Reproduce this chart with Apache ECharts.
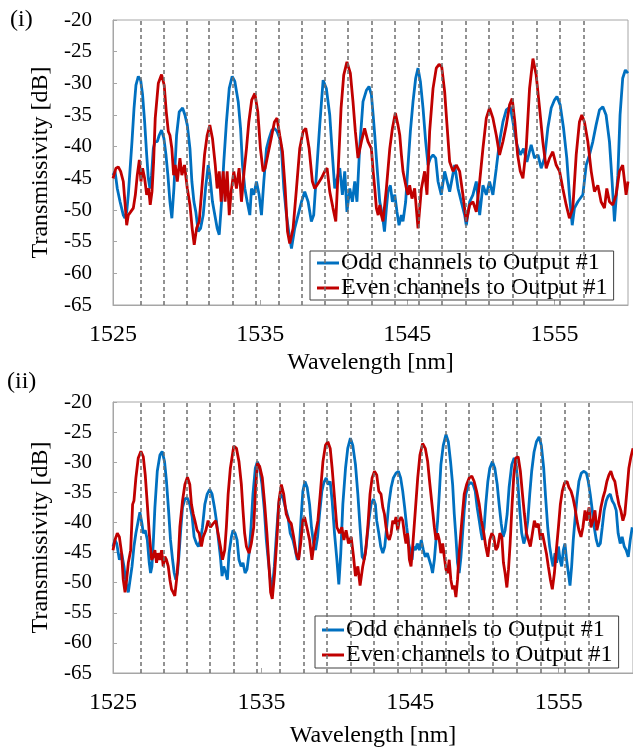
<!DOCTYPE html>
<html>
<head>
<meta charset="utf-8">
<script src="https://cdn.jsdelivr.net/npm/echarts@6/dist/echarts.min.js"></script>
<style>
  html, body { margin: 0; padding: 0; background: #fff; }
  #chart { width: 633px; height: 749px; }
</style>
</head>
<body>
<div id="chart"></div>
<script>
// channel grid (dashed lines), nm
const channelNm = [1526.87, 1528.42, 1529.99, 1531.54, 1533.11, 1534.69, 1536.25, 1537.83, 1539.42, 1540.98,
  1542.58, 1544.17, 1545.76, 1547.37, 1548.96, 1550.57, 1552.17, 1553.77, 1555.38, 1556.99];

const xLabels = [1525, 1535, 1545, 1555];

// (i) odd channels (blue)
const p1OddNm = [1525.00,1525.14,1525.29,1525.48,1525.70,1525.81,1525.93,1526.04,1526.15,1526.29,1526.43,1526.56,1526.72,1526.88,1527.01,1527.15,1527.29,1527.40,1527.51,1527.62,1527.74,1527.85,1528.01,1528.14,1528.30,1528.46,1528.60,1528.73,1528.87,1529.00,1529.14,1529.32,1529.50,1529.73,1529.89,1530.05,1530.23,1530.36,1530.50,1530.63,1530.79,1530.95,1531.13,1531.29,1531.47,1531.58,1531.76,1531.92,1532.08,1532.22,1532.38,1532.53,1532.71,1532.90,1533.10,1533.28,1533.51,1533.67,1533.80,1533.96,1534.12,1534.30,1534.41,1534.57,1534.75,1534.93,1535.09,1535.25,1535.43,1535.61,1535.79,1535.97,1536.15,1536.33,1536.45,1536.61,1536.79,1536.97,1537.13,1537.35,1537.58,1537.81,1538.03,1538.26,1538.48,1538.64,1538.82,1539.05,1539.28,1539.50,1539.73,1539.91,1540.07,1540.29,1540.41,1540.59,1540.75,1540.90,1541.09,1541.27,1541.43,1541.58,1541.76,1541.99,1542.22,1542.40,1542.56,1542.68,1542.79,1542.90,1543.02,1543.13,1543.31,1543.45,1543.58,1543.69,1543.85,1543.99,1544.15,1544.30,1544.44,1544.60,1544.71,1544.89,1545.05,1545.21,1545.39,1545.57,1545.73,1545.89,1546.07,1546.25,1546.41,1546.57,1546.75,1546.93,1547.09,1547.31,1547.54,1547.88,1548.22,1548.45,1548.67,1548.90,1549.01,1549.24,1549.46,1549.69,1549.92,1550.14,1550.37,1550.59,1550.82,1551.05,1551.27,1551.50,1551.73,1552.00,1552.22,1552.45,1552.68,1552.90,1553.13,1553.42,1553.65,1553.88,1554.10,1554.33,1554.55,1554.78,1555.01,1555.17,1555.39,1555.62,1555.84,1556.02,1556.21,1556.36,1556.59,1556.93,1557.16,1557.38,1557.61,1557.83,1558.06,1558.29,1558.51,1558.74,1558.92,1559.08,1559.31,1559.46,1559.64,1559.82,1560.00];
const p1OddDb = [-44.5,-43.9,-46.6,-48.7,-50.8,-51.3,-50.3,-47.6,-43.9,-39.2,-33.9,-30.3,-28.9,-29.5,-31.8,-36.1,-41.3,-45.0,-46.6,-44.5,-40.3,-39.2,-39.2,-38.2,-37.4,-38.7,-41.3,-44.5,-48.7,-51.3,-46.6,-38.2,-34.5,-33.9,-35.0,-36.6,-40.3,-45.5,-48.7,-50.3,-53.4,-52.9,-50.8,-46.6,-42.9,-44.5,-48.7,-50.8,-52.9,-53.9,-48.7,-42.4,-36.1,-30.8,-28.9,-29.7,-32.9,-37.1,-42.9,-46.6,-48.7,-50.8,-46.6,-47.6,-45.5,-47.6,-50.8,-45.5,-40.3,-38.7,-37.4,-37.1,-37.6,-38.7,-40.3,-46.6,-50.8,-53.9,-56.1,-52.9,-50.8,-48.7,-47.1,-48.7,-51.8,-50.8,-44.5,-36.6,-29.5,-30.8,-35.0,-41.3,-46.6,-44.5,-43.4,-47.6,-43.9,-50.3,-46.6,-48.7,-45.5,-48.7,-40.3,-32.9,-31.1,-30.5,-31.8,-35.0,-38.2,-41.8,-45.5,-48.7,-50.8,-53.4,-49.7,-47.1,-46.1,-48.7,-47.6,-50.3,-52.4,-50.8,-51.8,-48.7,-42.9,-37.6,-32.9,-29.2,-27.6,-29.7,-33.9,-39.2,-42.9,-41.8,-41.3,-41.8,-45.5,-47.6,-43.9,-47.1,-42.9,-46.6,-48.7,-50.8,-52.4,-48.7,-47.6,-45.5,-50.8,-46.1,-47.6,-45.5,-47.6,-43.4,-39.2,-36.1,-34.2,-33.7,-36.6,-39.7,-41.3,-40.3,-42.4,-39.7,-41.8,-41.3,-43.4,-41.8,-37.1,-33.9,-32.6,-32.1,-33.4,-37.1,-41.8,-47.6,-52.4,-49.7,-48.7,-47.6,-42.9,-41.3,-39.2,-36.6,-34.2,-33.7,-35.0,-39.2,-45.5,-51.8,-44.5,-35.0,-29.2,-27.9,-28.4];

// (i) even channels (red)
const p1EvenNm = [1525.00,1525.20,1525.36,1525.52,1525.70,1525.81,1525.93,1526.04,1526.20,1526.38,1526.52,1526.65,1526.79,1526.90,1527.01,1527.15,1527.29,1527.42,1527.53,1527.65,1527.76,1527.87,1528.08,1528.30,1528.48,1528.62,1528.76,1528.87,1529.00,1529.12,1529.23,1529.37,1529.55,1529.68,1529.86,1530.05,1530.23,1530.38,1530.52,1530.68,1530.86,1531.04,1531.22,1531.40,1531.58,1531.76,1531.95,1532.08,1532.22,1532.35,1532.49,1532.62,1532.76,1532.90,1533.03,1533.21,1533.39,1533.57,1533.73,1533.91,1534.07,1534.23,1534.43,1534.64,1534.84,1535.02,1535.20,1535.34,1535.52,1535.75,1535.97,1536.15,1536.33,1536.52,1536.70,1536.86,1537.01,1537.24,1537.47,1537.69,1537.92,1538.10,1538.33,1538.55,1538.71,1538.94,1539.16,1539.39,1539.55,1539.73,1539.95,1540.14,1540.32,1540.50,1540.68,1540.90,1541.13,1541.31,1541.47,1541.65,1541.88,1542.10,1542.33,1542.56,1542.68,1542.79,1542.90,1543.02,1543.13,1543.24,1543.35,1543.58,1543.81,1543.99,1544.19,1544.37,1544.49,1544.60,1544.71,1544.94,1545.05,1545.16,1545.32,1545.50,1545.73,1545.96,1546.18,1546.34,1546.52,1546.75,1546.97,1547.16,1547.34,1547.54,1547.70,1547.88,1548.11,1548.33,1548.56,1548.78,1549.01,1549.24,1549.46,1549.69,1549.92,1550.14,1550.37,1550.59,1550.82,1551.05,1551.27,1551.50,1551.73,1551.95,1552.13,1552.31,1552.50,1552.68,1552.86,1553.08,1553.31,1553.54,1553.76,1553.99,1554.21,1554.44,1554.67,1554.89,1555.12,1555.35,1555.57,1555.80,1556.02,1556.25,1556.48,1556.70,1556.86,1557.04,1557.27,1557.50,1557.72,1557.95,1558.17,1558.40,1558.56,1558.74,1558.97,1559.19,1559.42,1559.64,1559.87,1560.00];
const p1EvenDb = [-45.0,-43.4,-43.2,-43.9,-45.5,-48.7,-52.4,-50.8,-50.3,-49.7,-47.6,-44.5,-42.1,-45.5,-43.4,-45.0,-47.6,-46.6,-49.2,-47.1,-42.4,-35.5,-30.0,-28.6,-30.3,-34.5,-37.6,-38.2,-40.3,-44.5,-42.9,-45.5,-41.8,-44.5,-42.9,-46.6,-49.2,-52.9,-55.5,-52.9,-51.8,-46.6,-41.3,-38.2,-36.6,-38.7,-42.9,-46.6,-43.9,-48.7,-43.9,-48.7,-43.9,-50.8,-47.1,-43.9,-46.6,-43.4,-48.7,-43.9,-40.3,-36.1,-32.6,-31.6,-34.5,-40.3,-43.9,-43.4,-41.3,-38.7,-36.1,-35.5,-38.2,-40.8,-46.6,-53.4,-55.3,-52.9,-46.6,-40.3,-37.6,-37.1,-40.3,-45.5,-46.6,-45.8,-45.0,-43.9,-43.4,-47.1,-49.7,-51.8,-42.9,-33.9,-28.7,-26.6,-28.4,-32.9,-37.6,-41.8,-39.2,-37.1,-39.2,-40.3,-43.9,-46.6,-49.7,-50.8,-49.2,-50.8,-51.8,-46.6,-40.3,-37.1,-34.7,-36.6,-38.2,-41.3,-43.9,-46.6,-47.6,-46.1,-48.2,-46.6,-52.9,-46.6,-43.9,-47.6,-37.6,-30.8,-27.6,-27.0,-27.4,-31.3,-36.6,-42.4,-43.9,-42.9,-43.9,-47.6,-51.8,-49.2,-48.7,-50.3,-45.5,-40.3,-35.5,-33.9,-35.5,-38.2,-41.3,-39.2,-36.6,-33.4,-32.4,-36.1,-41.3,-43.9,-45.0,-40.3,-30.8,-26.1,-28.7,-33.9,-39.2,-43.4,-41.8,-40.8,-42.9,-43.9,-46.6,-49.2,-51.3,-49.7,-41.3,-36.1,-35.0,-36.1,-39.2,-43.9,-47.1,-46.1,-48.7,-49.7,-46.6,-48.7,-49.2,-47.6,-43.9,-42.9,-47.6,-45.5];

// (ii) odd channels (blue)
const p2OddNm = [1525.00,1525.13,1525.25,1525.43,1525.58,1525.74,1525.87,1526.03,1526.14,1526.28,1526.41,1526.54,1526.70,1526.81,1526.95,1527.04,1527.17,1527.31,1527.44,1527.53,1527.62,1527.71,1527.82,1527.98,1528.16,1528.31,1528.47,1528.60,1528.74,1528.87,1529.01,1529.12,1529.23,1529.34,1529.45,1529.57,1529.68,1529.84,1529.99,1530.17,1530.33,1530.46,1530.62,1530.75,1530.89,1531.02,1531.18,1531.34,1531.51,1531.67,1531.83,1531.96,1532.10,1532.23,1532.34,1532.45,1532.59,1532.70,1532.81,1532.97,1533.08,1533.22,1533.35,1533.48,1533.62,1533.75,1533.89,1534.02,1534.16,1534.29,1534.42,1534.58,1534.72,1534.87,1535.03,1535.19,1535.32,1535.45,1535.59,1535.70,1535.86,1535.99,1536.15,1536.28,1536.44,1536.60,1536.78,1536.93,1537.11,1537.27,1537.40,1537.51,1537.65,1537.78,1537.92,1538.07,1538.23,1538.36,1538.50,1538.63,1538.77,1538.90,1539.06,1539.19,1539.35,1539.48,1539.62,1539.75,1539.91,1540.07,1540.20,1540.33,1540.47,1540.65,1540.80,1540.98,1541.14,1541.32,1541.48,1541.63,1541.77,1541.90,1542.04,1542.22,1542.37,1542.53,1542.66,1542.75,1542.89,1543.02,1543.16,1543.29,1543.42,1543.56,1543.72,1543.87,1544.05,1544.21,1544.36,1544.50,1544.63,1544.77,1544.90,1545.04,1545.13,1545.21,1545.35,1545.48,1545.62,1545.75,1545.89,1546.02,1546.16,1546.29,1546.42,1546.51,1546.63,1546.74,1546.85,1546.96,1547.07,1547.23,1547.41,1547.57,1547.72,1547.86,1547.97,1548.08,1548.19,1548.30,1548.42,1548.53,1548.64,1548.75,1548.93,1549.09,1549.24,1549.38,1549.51,1549.65,1549.78,1549.87,1549.98,1550.09,1550.23,1550.36,1550.54,1550.70,1550.86,1550.99,1551.13,1551.26,1551.39,1551.53,1551.66,1551.84,1552.00,1552.11,1552.24,1552.38,1552.51,1552.65,1552.78,1552.92,1553.05,1553.18,1553.34,1553.50,1553.68,1553.83,1553.99,1554.12,1554.26,1554.39,1554.53,1554.62,1554.75,1554.86,1554.98,1555.09,1555.20,1555.31,1555.42,1555.53,1555.65,1555.76,1555.87,1555.98,1556.09,1556.23,1556.36,1556.52,1556.70,1556.86,1556.99,1557.12,1557.26,1557.39,1557.53,1557.66,1557.80,1557.93,1558.06,1558.20,1558.33,1558.47,1558.60,1558.74,1558.87,1559.00,1559.14,1559.27,1559.41,1559.54,1559.68,1559.81,1559.95];
const p2OddDb = [-44.0,-42.9,-43.5,-46.2,-45.1,-47.3,-50.0,-51.6,-51.9,-47.3,-44.0,-41.8,-39.7,-38.3,-40.2,-41.8,-41.3,-42.9,-46.7,-48.4,-47.3,-43.5,-37.5,-31.5,-28.8,-28.2,-29.9,-33.2,-38.0,-42.9,-46.2,-48.4,-49.5,-48.4,-45.1,-40.8,-37.5,-36.1,-35.9,-37.0,-39.1,-42.4,-43.5,-44.0,-42.9,-40.8,-37.0,-35.3,-34.5,-35.3,-37.5,-39.7,-42.9,-45.7,-48.9,-47.3,-48.4,-49.5,-45.1,-42.4,-41.3,-41.8,-42.9,-46.2,-47.3,-46.7,-48.4,-47.8,-45.1,-40.8,-35.3,-31.0,-29.9,-31.0,-33.7,-38.0,-42.9,-46.2,-49.5,-51.6,-47.3,-42.4,-37.0,-35.3,-35.9,-37.5,-39.1,-41.8,-42.9,-44.6,-46.2,-45.7,-39.7,-34.8,-33.2,-34.2,-37.0,-40.8,-43.5,-44.6,-42.4,-38.6,-34.8,-33.4,-32.6,-33.7,-33.2,-36.4,-41.8,-46.2,-50.3,-45.1,-37.0,-31.0,-27.7,-26.0,-27.2,-30.4,-35.3,-40.8,-45.7,-46.2,-44.0,-39.7,-37.0,-36.1,-37.0,-39.7,-41.8,-44.0,-45.1,-44.0,-40.8,-37.0,-34.2,-32.6,-31.8,-31.5,-32.6,-34.8,-37.5,-40.8,-43.5,-45.1,-46.2,-44.0,-44.6,-43.5,-44.6,-42.9,-44.6,-45.7,-45.1,-46.2,-47.3,-48.4,-46.2,-42.9,-39.7,-35.3,-30.4,-27.2,-25.4,-26.6,-29.9,-33.7,-38.6,-42.4,-46.7,-48.4,-45.7,-41.8,-38.0,-35.3,-33.7,-33.4,-33.7,-34.8,-37.5,-39.7,-41.8,-42.9,-40.8,-37.0,-33.2,-31.0,-29.9,-31.0,-33.7,-37.0,-40.2,-42.4,-41.3,-38.6,-34.2,-30.4,-29.3,-29.9,-33.2,-38.0,-41.8,-43.5,-42.4,-39.7,-35.3,-31.5,-28.3,-26.6,-25.8,-27.2,-31.0,-35.9,-40.8,-44.0,-46.2,-47.3,-45.1,-46.7,-44.0,-46.2,-47.3,-44.6,-43.5,-46.2,-48.4,-50.5,-47.3,-42.9,-39.7,-35.9,-33.2,-31.8,-31.5,-31.8,-33.2,-35.3,-38.0,-40.8,-42.9,-44.0,-43.5,-40.8,-38.0,-36.4,-35.6,-35.3,-36.4,-37.0,-38.0,-41.8,-43.5,-42.4,-44.0,-44.6,-45.7,-43.0,-40.8];

// (ii) even channels (red)
const p2EvenNm = [1525.00,1525.13,1525.29,1525.43,1525.58,1525.69,1525.81,1525.92,1526.03,1526.19,1526.32,1526.41,1526.54,1526.70,1526.88,1527.04,1527.17,1527.31,1527.44,1527.60,1527.71,1527.82,1527.93,1528.04,1528.16,1528.27,1528.38,1528.49,1528.60,1528.72,1528.83,1528.94,1529.05,1529.16,1529.28,1529.39,1529.50,1529.68,1529.84,1530.01,1530.17,1530.28,1530.40,1530.51,1530.66,1530.80,1530.95,1531.07,1531.25,1531.40,1531.56,1531.74,1531.92,1532.07,1532.23,1532.37,1532.52,1532.63,1532.75,1532.90,1533.13,1533.31,1533.48,1533.64,1533.75,1533.86,1533.98,1534.16,1534.31,1534.47,1534.60,1534.72,1534.87,1535.05,1535.21,1535.36,1535.50,1535.61,1535.72,1535.88,1536.04,1536.17,1536.33,1536.49,1536.66,1536.84,1537.00,1537.16,1537.33,1537.49,1537.63,1537.78,1537.89,1538.05,1538.23,1538.39,1538.50,1538.63,1538.79,1538.95,1539.13,1539.30,1539.46,1539.62,1539.75,1539.91,1540.07,1540.25,1540.40,1540.54,1540.69,1540.85,1541.03,1541.19,1541.32,1541.48,1541.63,1541.81,1541.99,1542.15,1542.30,1542.44,1542.60,1542.75,1542.89,1543.04,1543.16,1543.27,1543.38,1543.49,1543.60,1543.72,1543.83,1543.94,1544.05,1544.16,1544.27,1544.39,1544.50,1544.61,1544.72,1544.83,1544.95,1545.06,1545.17,1545.35,1545.51,1545.66,1545.84,1546.02,1546.18,1546.33,1546.47,1546.63,1546.74,1546.85,1546.96,1547.07,1547.19,1547.30,1547.41,1547.52,1547.63,1547.74,1547.86,1547.97,1548.08,1548.19,1548.30,1548.48,1548.64,1548.80,1548.98,1549.15,1549.31,1549.47,1549.65,1549.80,1549.96,1550.09,1550.23,1550.36,1550.50,1550.63,1550.77,1550.90,1551.04,1551.17,1551.28,1551.39,1551.51,1551.62,1551.73,1551.84,1551.98,1552.11,1552.27,1552.42,1552.56,1552.69,1552.83,1552.96,1553.09,1553.23,1553.36,1553.50,1553.63,1553.77,1553.90,1554.04,1554.17,1554.30,1554.44,1554.57,1554.71,1554.84,1554.98,1555.11,1555.24,1555.40,1555.56,1555.69,1555.83,1555.96,1556.09,1556.23,1556.36,1556.50,1556.63,1556.77,1556.90,1557.04,1557.17,1557.30,1557.44,1557.57,1557.71,1557.84,1557.98,1558.11,1558.24,1558.38,1558.51,1558.65,1558.78,1558.92,1559.05,1559.18,1559.32,1559.45,1559.59,1559.72,1559.86,1560.00];
const p2EvenDb = [-44.6,-42.9,-41.8,-42.4,-45.1,-49.5,-51.6,-49.5,-46.7,-44.6,-37.0,-36.4,-32.6,-29.3,-28.2,-29.1,-32.1,-37.0,-41.8,-46.2,-45.7,-44.6,-46.7,-45.1,-46.2,-44.6,-47.3,-45.7,-46.2,-47.3,-49.5,-51.1,-51.6,-52.2,-49.5,-46.2,-40.8,-36.4,-33.7,-32.5,-33.7,-37.0,-38.6,-39.7,-41.3,-41.8,-44.0,-42.4,-41.3,-39.7,-40.8,-40.2,-39.7,-41.8,-44.0,-46.2,-44.6,-40.8,-35.3,-31.0,-27.3,-27.7,-29.9,-33.7,-38.0,-41.8,-44.0,-45.1,-43.5,-40.8,-34.2,-30.2,-30.7,-32.6,-37.0,-41.8,-47.3,-51.6,-52.7,-48.4,-42.4,-36.4,-33.7,-35.3,-38.6,-39.7,-40.2,-42.4,-45.1,-46.2,-43.5,-39.7,-39.1,-40.8,-42.9,-46.2,-44.0,-41.8,-39.7,-35.3,-29.9,-27.2,-26.6,-27.7,-31.0,-35.9,-40.8,-41.8,-40.8,-42.9,-41.3,-43.5,-42.4,-45.7,-48.9,-47.3,-50.5,-47.3,-45.1,-40.8,-35.3,-32.6,-31.5,-32.1,-34.8,-35.3,-37.5,-38.6,-40.8,-42.4,-42.9,-41.8,-39.7,-40.2,-39.1,-41.3,-39.7,-39.1,-39.7,-41.8,-43.5,-41.8,-46.2,-47.3,-44.0,-38.0,-32.6,-28.8,-26.9,-27.7,-29.9,-33.7,-37.0,-40.8,-42.9,-41.8,-42.9,-45.1,-43.5,-45.7,-47.8,-48.4,-46.2,-49.5,-51.1,-50.5,-52.4,-49.5,-45.1,-39.7,-35.3,-33.7,-32.6,-32.3,-33.2,-34.8,-37.0,-39.7,-41.8,-44.0,-45.7,-42.9,-41.8,-42.4,-44.6,-44.0,-41.8,-42.4,-46.7,-48.4,-50.8,-47.8,-43.5,-38.0,-32.1,-29.3,-29.1,-31.5,-35.3,-38.6,-41.8,-42.9,-44.0,-41.8,-39.7,-40.8,-40.2,-42.9,-41.8,-43.5,-45.1,-47.3,-49.5,-51.1,-48.4,-44.6,-40.8,-37.0,-34.8,-33.4,-33.2,-34.2,-34.8,-35.9,-37.5,-39.7,-41.3,-42.4,-40.8,-38.0,-39.7,-37.5,-40.8,-39.7,-38.0,-41.3,-39.7,-37.5,-35.9,-34.8,-33.2,-32.1,-31.5,-32.6,-33.2,-35.3,-37.0,-38.0,-39.7,-38.6,-34.8,-31.0,-29.1,-27.7];

const ODD = "Odd channels to Output #1";
const EVEN = "Even channels to Output #1";
const FONT = "Liberation Serif";
const AXIS_GRAY = "#a6a6a6";

function pairs(xs, ys) {
  return xs.map((x, i) => [x, ys[i]]);
}

function makeXAxis(gridIndex, nameGap) {
  return {
    gridIndex,
    type: "value",
    min: 1525,
    max: 1560,
    axisLine: { lineStyle: { color: AXIS_GRAY, width: 1 } },
    axisTick: { inside: true, length: 5, customValues: xLabels, lineStyle: { color: AXIS_GRAY } },
    axisLabel: {
      customValues: xLabels,
      formatter: (v) => String(v),
      fontSize: 24,
      fontFamily: FONT,
      color: "#000",
      margin: 18,
    },
    splitLine: { show: false },
    name: "Wavelength [nm]",
    nameLocation: "middle",
    nameGap,
    nameTextStyle: { fontSize: 24, fontFamily: FONT, color: "#000" },
  };
}

function makeYAxis(gridIndex) {
  return {
    gridIndex,
    type: "value",
    min: -65,
    max: -20,
    interval: 5,
    axisLine: { show: true, lineStyle: { color: AXIS_GRAY, width: 1 } },
    axisTick: { show: true, inside: true, length: 4, lineStyle: { color: AXIS_GRAY } },
    axisLabel: { fontSize: 21, fontFamily: FONT, color: "#000", margin: 21 },
    splitLine: { show: false },
    name: "Transmissivity [dB]",
    nameLocation: "middle",
    nameGap: 56,
    nameTextStyle: { fontSize: 24, fontFamily: FONT, color: "#000" },
  };
}

function curve(name, idx, xs, ys, color) {
  return {
    name,
    type: "line",
    xAxisIndex: idx,
    yAxisIndex: idx,
    data: pairs(xs, ys),
    symbol: "none",
    z: 3,
    lineStyle: { color, width: 2.8 },
    itemStyle: { color },
  };
}

function channelLines(idx) {
  return {
    type: "line",
    xAxisIndex: idx,
    yAxisIndex: idx,
    data: [],
    z: 1,
    markLine: {
      silent: true,
      symbol: ["none", "none"],
      label: { show: false },
      lineStyle: { color: "#6f6f6f", type: [4, 3], width: 1.5 },
      data: channelNm.map((v) => ({ xAxis: v })),
    },
  };
}

function makeLegend(left, top, padding) {
  return {
    left,
    top,
    orient: "vertical",
    itemGap: 1,
    itemWidth: 22,
    itemHeight: 3,
    icon: "rect",
    borderColor: "#404040",
    borderWidth: 1,
    borderRadius: 0,
    backgroundColor: "#fff",
    padding,
    selectedMode: false,
    textStyle: { fontSize: 24, fontFamily: FONT, color: "#000", lineHeight: 24, padding: [0, 0, 0, -3] },
    data: [ODD, EVEN],
  };
}

const chart = echarts.init(document.getElementById("chart"), null, { renderer: "canvas" });

chart.setOption({
  animation: false,
  backgroundColor: "#fff",
  grid: [
    { left: 113, top: 20, width: 515, height: 285, show: true, borderColor: AXIS_GRAY, borderWidth: 1, backgroundColor: "transparent" },
    { left: 113, top: 402, width: 521, height: 274, show: true, borderColor: AXIS_GRAY, borderWidth: 1, backgroundColor: "transparent" },
  ],
  xAxis: [makeXAxis(0, 46), makeXAxis(1, 51)],
  yAxis: [makeYAxis(0), makeYAxis(1)],
  legend: [makeLegend(310, 251, [0, 6, 0, 7]), makeLegend(315, 616, [2, 6, 1, 7])],
  graphic: [
    { type: "text", left: 10, top: 8, style: { text: "(i)", font: "24px 'Liberation Serif'", fill: "#000" } },
    { type: "text", left: 7, top: 370, style: { text: "(ii)", font: "24px 'Liberation Serif'", fill: "#000" } },
  ],
  series: [
    channelLines(0),
    curve(ODD, 0, p1OddNm, p1OddDb, "#0070C0"),
    curve(EVEN, 0, p1EvenNm, p1EvenDb, "#C00000"),
    channelLines(1),
    curve(ODD, 1, p2OddNm, p2OddDb, "#0070C0"),
    curve(EVEN, 1, p2EvenNm, p2EvenDb, "#C00000"),
  ],
});
</script>
</body>
</html>
